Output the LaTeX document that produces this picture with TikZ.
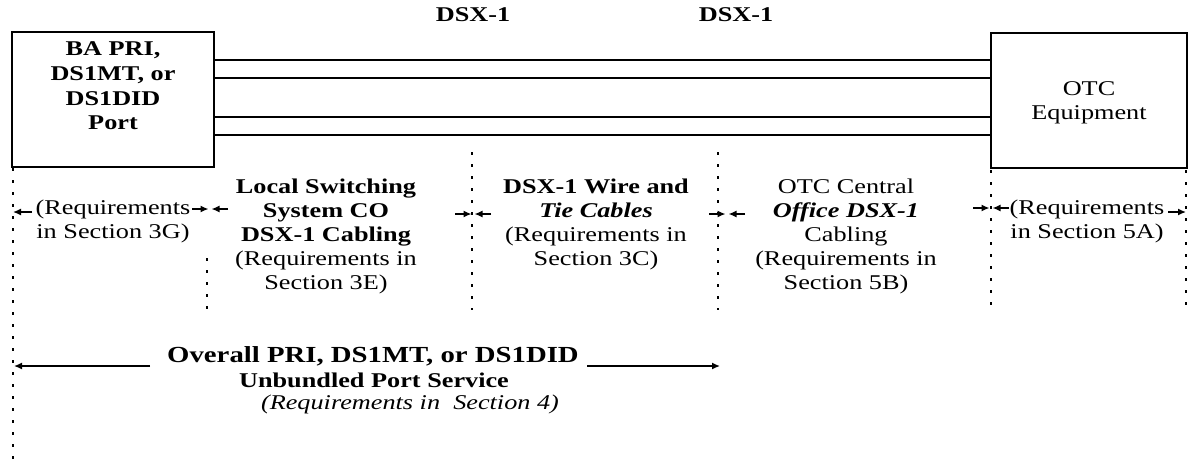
\documentclass[tikz,border=0pt]{standalone}
\usepackage{fontspec}
\setmainfont{Liberation Serif}[FakeStretch=1.25]
\usetikzlibrary{arrows.meta,calc}
\tikzset{
  boxnode/.style={draw, line width=1.4pt, inner sep=0pt, minimum width=202pt, minimum height=135pt},
  txt/.style={align=center, inner sep=0pt, font=\fontsize{21}{24}\selectfont},
  dotline/.style={line width=1.5pt, dash pattern=on 3pt off 9pt},
  wire/.style={line width=1.6pt},
  tipline/.style={-{Latex[length=8pt,width=7pt]}, line width=1.4pt},
}
\begin{document}
\begin{tikzpicture}[x=1pt,y=-1pt]
\useasboundingbox (0,0) rectangle (1188,461);
% boxes
\node[boxnode] (lb) at (113,99.5) {};
\node[txt, font=\fontsize{21}{24.7}\selectfont\bfseries] (lbt) at (113,86) {BA PRI,\\DS1MT, or\\DS1DID\\Port};
\node[boxnode, minimum width=196pt] (rb) at (1089,100.5) {};
\node[txt] (rbt) at (1089,103) {OTC\\Equipment};
% wires
\foreach \yy in {60,78,117,135}
  \draw[wire] (lb.east |- 0,\yy) -- (rb.west |- 0,\yy);
% DSX labels
\node[txt, font=\fontsize{21}{24}\selectfont\bfseries] (dsxa) at (473,15) {DSX-1};
\node[txt, font=\fontsize{21}{24}\selectfont\bfseries] (dsxb) at (736,15) {DSX-1};
% dotted boundaries
\coordinate (d0a) at (13,168); \coordinate (d0b) at (13,461);
\coordinate (d1a) at (207,258); \coordinate (d1b) at (207,310);
\coordinate (d2a) at (472,152); \coordinate (d2b) at (472,310);
\coordinate (d3a) at (718,152); \coordinate (d3b) at (718,310);
\coordinate (d4a) at (991,170); \coordinate (d4b) at (991,310);
\coordinate (d5a) at (1186,170); \coordinate (d5b) at (1186,310);
\draw[dotline] (d0a) -- (d0b);
\draw[dotline] (d1a) -- (d1b);
\draw[dotline] (d2a) -- (d2b);
\draw[dotline] (d3a) -- (d3b);
\draw[dotline] (d4a) -- (d4b);
\draw[dotline] (d5a) -- (d5b);
% segment texts
\node[txt] (s3g) at (113,221) {(Requirements\\in Section 3G)};
\node[txt] (s3e) at (326,236) {\textbf{Local Switching}\\\textbf{System CO}\\\textbf{DSX-1 Cabling}\\(Requirements in\\Section 3E)};
\node[txt] (s3c) at (596,224) {\textbf{DSX-1 Wire and}\\\textbf{\itshape Tie Cables}\\(Requirements in\\Section 3C)};
\node[txt] (s5b) at (846,236) {OTC Central\\\textbf{\itshape Office DSX-1}\\Cabling\\(Requirements in\\Section 5B)};
\node[txt] (s5a) at (1087,221) {(Requirements\\in Section 5A)};
% end arrows
\coordinate (la) at (32,212); \coordinate (lz) at (13,212);
\draw[tipline] (la) -- (lz);
\coordinate (ra) at (1168,212); \coordinate (rz) at (1186,212);
\draw[tipline] (ra) -- (rz);
% boundary markers
\foreach \nm/\mx/\my in {ma/210/209, mb/473/214, mc/727/214, md/991/208}{
  \coordinate (\nm) at (\mx,\my);
  \draw[tipline] ([xshift=-18pt]\nm) -- ([xshift=-1.5pt]\nm);
  \draw[tipline] ([xshift=18pt]\nm) -- ([xshift=1.5pt]\nm);
}
% overall
\node[txt, font=\fontsize{23}{24}\selectfont\bfseries] (ov1) at (373,356) {Overall PRI, DS1MT, or DS1DID};
\node[txt, font=\fontsize{21}{24}\selectfont\bfseries] (ov2) at (374,380) {Unbundled Port Service};
\node[txt, font=\fontsize{21}{24}\selectfont\itshape] (ov3) at (410,404) {(Requirements in\ \ Section 4)};
\coordinate (oL) at (150,366); \coordinate (oLz) at (14,366);
\coordinate (oR) at (587,366); \coordinate (oRz) at (720,366);
\draw[tipline] (oL) -- (oLz);
\draw[tipline] (oR) -- (oRz);
\end{tikzpicture}
\end{document}
